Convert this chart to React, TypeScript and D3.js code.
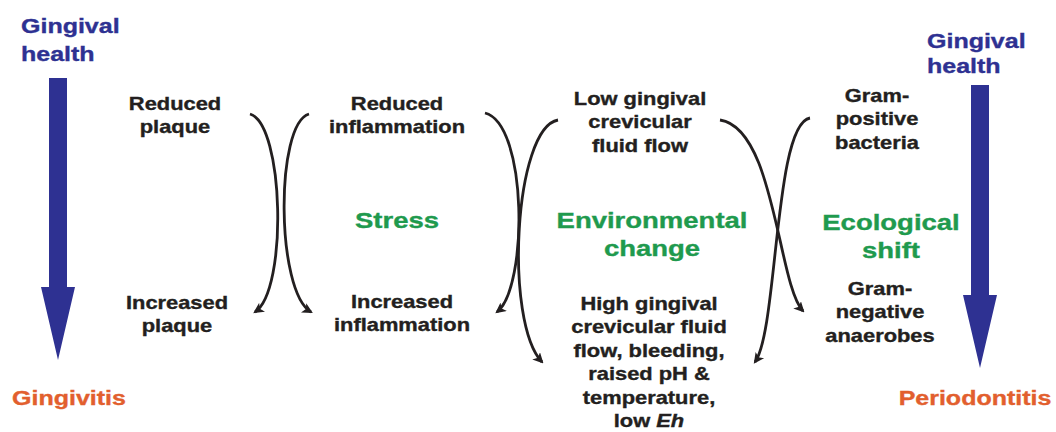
import React from "react";
import * as d3 from "d3";

const W = 1056;
const H = 432;
const SX = 1.25;

// Text content
const sideTop = ["Gingival", "health"];
const leftBottom = "Gingivitis";
const rightBottom = "Periodontitis";
const stageTitles = [["Stress"], ["Environmental", "change"], ["Ecological", "shift"]];
const topLabels = [
  ["Reduced", "plaque"],
  ["Reduced", "inflammation"],
  ["Low gingival", "crevicular", "fluid flow"],
  ["Gram-", "positive", "bacteria"],
];
const bottomLabels = [
  ["Increased", "plaque"],
  ["Increased", "inflammation"],
  ["High gingival", "crevicular fluid", "flow, bleeding,", "raised pH &", "temperature,", "low |Eh"],
  ["Gram-", "negative", "anaerobes"],
];

// Layout (positions)
const topLabelPos = [
  { x: 175, y: 110 },
  { x: 397, y: 110 },
  { x: 640, y: 105 },
  { x: 877, y: 102 },
];
const bottomLabelPos = [
  { x: 177, y: 309 },
  { x: 402, y: 308 },
  { x: 649, y: 310 },
  { x: 880, y: 295 },
];
const titlePos = [
  { x: 397, y: 228 },
  { x: 652, y: 228 },
  { x: 891, y: 230 },
];

// Curved arrows: [start, ctrl1, ctrl2, end]
const curves: [number, number][][] = [
  [[250, 114], [284, 124], [288, 290], [255, 312]],
  [[309, 114], [275, 124], [276, 292], [311, 312]],
  [[485, 113], [528, 124], [528, 288], [497, 312]],
  [[558, 120], [514, 128], [504, 322], [542, 362]],
  [[720, 120], [775, 128], [778, 285], [803, 311]],
  [[810, 118], [774, 124], [778, 330], [755, 362]],
];

// Big vertical arrows
const bigArrows = [
  { x: 58, top: 78, headY: 287, tip: 360, shaftW: 18, headW: 34 },
  { x: 980, top: 85, headY: 295, tip: 368, shaftW: 18, headW: 34 },
];

const BLUE = "#2e3192";
const GREEN = "#1f9a4e";
const ORANGE = "#e25f2e";
const INK = "#231f20";
const FONT = "'Liberation Sans', Arial, Helvetica, sans-serif";

function Lines({ x, y, lines, size, lh, color, anchor = "middle" }: { x: number; y: number; lines: string[]; size: number; lh: number; color: string; anchor?: string }) {
  return (
    <g transform={`translate(${x},${y}) scale(${SX},1)`}>
      {lines.map((l, i) => {
        const parts = l.split("|");
        return (
          <text key={i} x={0} y={i * lh} textAnchor={anchor} fontFamily={FONT} fontWeight="bold" fontSize={size} fill={color} stroke={color} strokeWidth={0.35}>
            {parts[0]}
            {parts.length > 1 ? <tspan fontStyle="italic">{parts[1]}</tspan> : null}
          </text>
        );
      })}
    </g>
  );
}

export default function App() {
  const curvePath = (pts: [number, number][]) => {
    const p = d3.path();
    p.moveTo(pts[0][0], pts[0][1]);
    p.bezierCurveTo(pts[1][0], pts[1][1], pts[2][0], pts[2][1], pts[3][0], pts[3][1]);
    return p.toString();
  };
  const bigArrowPath = (a: typeof bigArrows[0]) => {
    const p = d3.path();
    p.moveTo(a.x - a.shaftW / 2, a.top);
    p.lineTo(a.x + a.shaftW / 2, a.top);
    p.lineTo(a.x + a.shaftW / 2, a.headY);
    p.lineTo(a.x + a.headW / 2, a.headY);
    p.lineTo(a.x, a.tip);
    p.lineTo(a.x - a.headW / 2, a.headY);
    p.lineTo(a.x - a.shaftW / 2, a.headY);
    p.closePath();
    return p.toString();
  };
  return (
    <svg width={W} height={H} style={{ position: "absolute", left: 0, top: 0, background: "#fff" }}>
      <defs>
        <marker id="ah" viewBox="0 0 10 10" refX="8" refY="5" markerWidth="3.8" markerHeight="3.8" orient="auto" markerUnits="strokeWidth">
          <path d="M0,0 L10,5 L0,10 L2.5,5 Z" fill={INK} />
        </marker>
      </defs>
      <rect width={W} height={H} fill="#fff" />
      {bigArrows.map((a, i) => (
        <path key={i} d={bigArrowPath(a)} fill={BLUE} />
      ))}
      {curves.map((c, i) => (
        <path key={i} d={curvePath(c)} fill="none" stroke={INK} strokeWidth={2.8} markerEnd="url(#ah)" />
      ))}
      <Lines x={21} y={33} lines={sideTop} size={20} lh={28} color={BLUE} anchor="start" />
      <Lines x={927} y={48} lines={sideTop} size={20} lh={25} color={BLUE} anchor="start" />
      <Lines x={69} y={405} lines={[leftBottom]} size={20} lh={26} color={ORANGE} />
      <Lines x={975} y={405} lines={[rightBottom]} size={20} lh={26} color={ORANGE} />
      {stageTitles.map((t, i) => (
        <Lines key={i} x={titlePos[i].x} y={titlePos[i].y} lines={t} size={22} lh={28} color={GREEN} />
      ))}
      {topLabels.map((t, i) => (
        <Lines key={i} x={topLabelPos[i].x} y={topLabelPos[i].y} lines={t} size={17.5} lh={23.5} color={INK} />
      ))}
      {bottomLabels.map((t, i) => (
        <Lines key={i} x={bottomLabelPos[i].x} y={bottomLabelPos[i].y} lines={t} size={17.5} lh={23.5} color={INK} />
      ))}
    </svg>
  );
}
